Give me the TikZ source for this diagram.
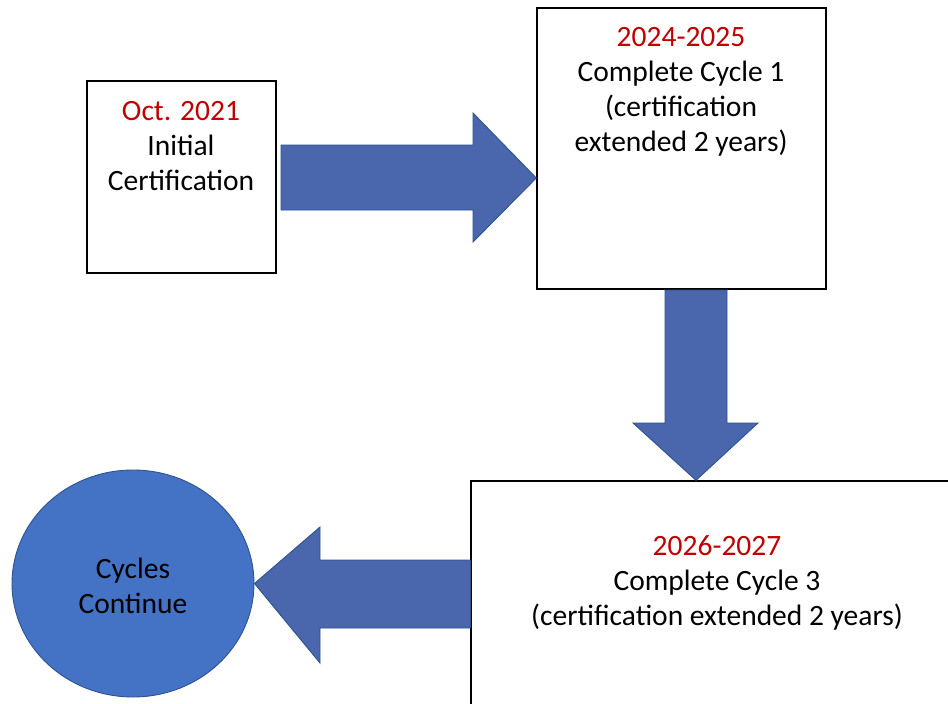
\documentclass[tikz,border=0pt]{standalone}
\usepackage{fontspec}
\setmainfont{Carlito}
\usetikzlibrary{shapes.geometric}
\definecolor{arrowfill}{HTML}{4A67AD}
\definecolor{arrowline}{HTML}{2F528F}
\definecolor{circfill}{HTML}{4472C4}
\definecolor{datered}{HTML}{C00000}
\tikzset{
  box/.style={draw=black, line width=1.4pt, fill=white, inner sep=0pt},
  bigarrow/.style={fill=arrowfill, draw=arrowline, line width=0.9pt, line join=miter},
  txt/.style={align=center, inner sep=0pt, font=\fontsize{29.5}{35}\selectfont, text=black},
}
\begin{document}
\begin{tikzpicture}[x=1pt,y=-1pt]
\useasboundingbox (0,0) rectangle (948,704);
\clip (0,0) rectangle (948,704);
% boxes
\node (b1) [box, minimum width=189pt, minimum height=192pt] at (181.5,177) {};
\node (b2) [box, minimum width=289pt, minimum height=281pt] at (681.5,148.5) {};
\node (b3) [box, minimum width=500pt, minimum height=260pt] at (721,611) {};
\node (c1) [ellipse, draw=arrowline, fill=circfill, line width=0.9pt, minimum width=242pt, minimum height=227pt, inner sep=0pt] at (133,583.5) {};
% arrows
\draw[bigarrow] (281,145) -- (473,145) -- (473,113) -- (b2.west |- 0,178) -- (473,242) -- (473,210) -- (281,210) -- cycle;
\draw[bigarrow] (665,290) -- (727,290) -- (727,423) -- (758,423) -- (b3.north -| 696,0) -- (633,423) -- (665,423) -- cycle;
\draw[bigarrow] (b3.west |- 0,560) -- (320,560) -- (320,527) -- (c1.east) -- (320,663) -- (320,628) -- (b3.west |- 0,628) -- cycle;
% texts
\node (t1) [txt] at (181,146.5) {\textcolor{datered}{Oct. 2021}\\Initial\\Certification};
\node (t2) [txt] at (681,92) {\textcolor{datered}{2024-2025}\\Complete Cycle 1\\(certification\\extended 2 years)};
\node (t3) [txt] at (717,582.5) {\textcolor{datered}{2026-2027}\\Complete Cycle 3\\(certification extended 2 years)};
\node (t4) [txt] at (133,586) {Cycles\\Continue};
\end{tikzpicture}
\end{document}
